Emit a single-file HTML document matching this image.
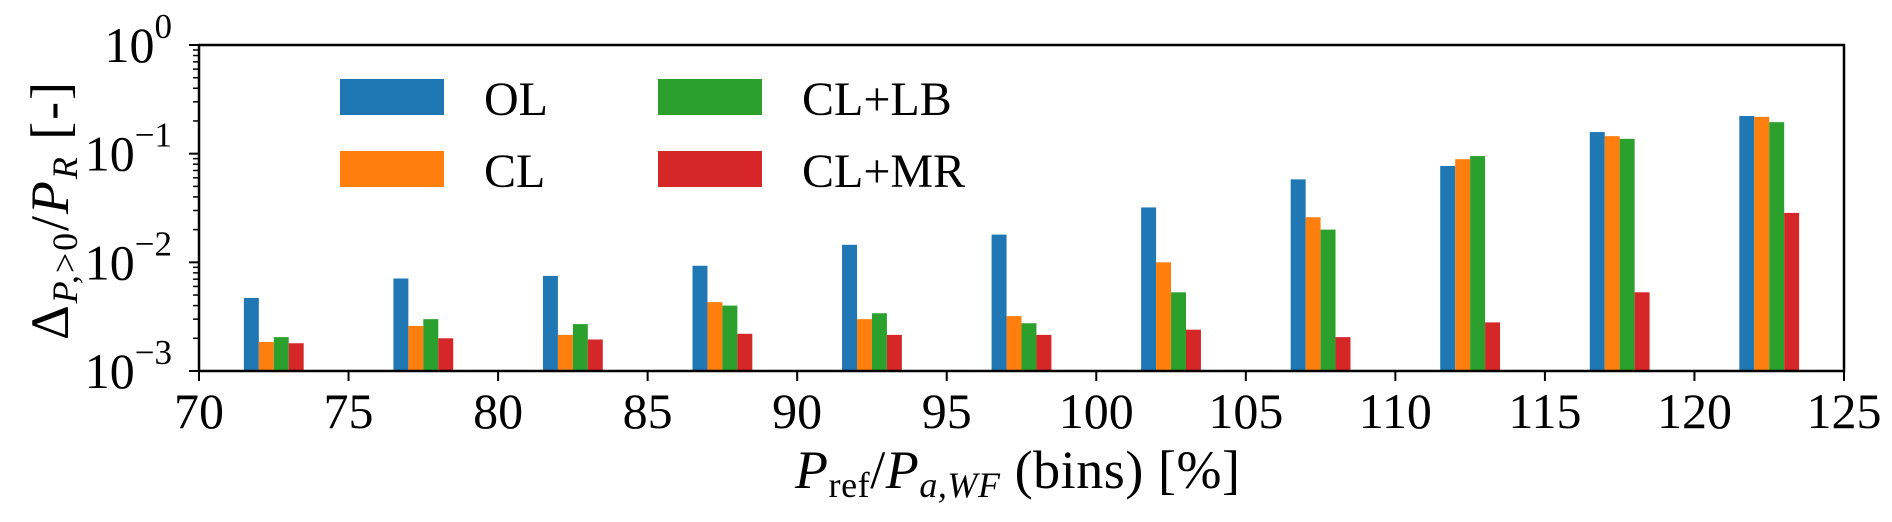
<!DOCTYPE html>
<html><head><meta charset="utf-8"><style>
html,body{margin:0;padding:0;background:#fff;}
svg{display:block;font-family:"Liberation Serif","DejaVu Serif",serif;}
</style></head><body>
<svg id="chart" width="1892" height="522" viewBox="0 0 1892 522" xmlns="http://www.w3.org/2000/svg">
<g id="bars"></g>
<g id="axes"></g>
<g id="legend"></g>
<text x="795" y="488" font-size="54" textLength="445" lengthAdjust="spacing"><tspan font-style="italic">P</tspan><tspan font-size="36" dy="9">ref</tspan><tspan dy="-9">/</tspan><tspan font-style="italic">P</tspan><tspan font-size="36" dy="9" font-style="italic">a,WF</tspan><tspan dy="-9"> (bins) [%]</tspan></text>
<text transform="translate(68,340) rotate(-90)" font-size="54" textLength="258" lengthAdjust="spacing">Δ<tspan font-size="36" dy="9" font-style="italic">P,</tspan><tspan font-size="36">&gt;0</tspan><tspan dy="-9">/</tspan><tspan font-style="italic">P</tspan><tspan font-size="36" dy="9" font-style="italic">R</tspan><tspan dy="-9"> [-]</tspan></text>
</svg>
<script>
const groups = [72.5,77.5,82.5,87.5,92.5,97.5,102.5,107.5,112.5,117.5,122.5];
const seriesNames = ["OL","CL","CL+LB","CL+MR"];
const seriesColors = ["#1f77b4","#ff7f0e","#2ca02c","#d62728"];
const valsOL = [4.7e-3,7.1e-3,7.5e-3,9.3e-3,1.45e-2,1.8e-2,3.2e-2,5.8e-2,7.7e-2,0.158,0.222];
const valsCL = [1.85e-3,2.6e-3,2.15e-3,4.3e-3,3.0e-3,3.2e-3,1.0e-2,2.6e-2,8.9e-2,0.145,0.218];
const valsLB = [2.05e-3,3.0e-3,2.7e-3,4.0e-3,3.4e-3,2.75e-3,5.3e-3,2.0e-2,9.5e-2,0.137,0.195];
const valsMR = [1.8e-3,2.0e-3,1.95e-3,2.2e-3,2.15e-3,2.15e-3,2.4e-3,2.05e-3,2.8e-3,5.3e-3,2.85e-2];
const xTicks = [70,75,80,85,90,95,100,105,110,115,120,125];
const yTickExps = [0,-1,-2,-3];
const barWidth = 0.5;

const NS="http://www.w3.org/2000/svg";
const X0=199,X1=1844,Y0=45,Y1=371;
const xMin=70,xMax=125,lMin=-3,lMax=0;
function xs(v){return X0+(v-xMin)/(xMax-xMin)*(X1-X0);}
function ys(v){return Y1-(Math.log10(v)-lMin)/(lMax-lMin)*(Y1-Y0);}
function mk(tag,attrs,parent){const e=document.createElementNS(NS,tag);for(const k in attrs)e.setAttribute(k,attrs[k]);parent.appendChild(e);return e;}

const bars=document.getElementById('bars');
const all=[valsOL,valsCL,valsLB,valsMR];
all.forEach((vals,s)=>{
  vals.forEach((v,i)=>{
    const xl=groups[i]+(s-2)*barWidth;
    const r=mk('rect',{x:xs(xl),y:ys(v),width:xs(xl+barWidth)-xs(xl),height:Y1-ys(v),fill:seriesColors[s]},bars);
    
    
  });
});

const ax=document.getElementById('axes');
const frame=mk('rect',{x:X0,y:Y0,width:X1-X0,height:Y1-Y0,fill:'none',stroke:'#000','stroke-width':2.5},ax);


xTicks.forEach(t=>{
  const x=xs(t);
  mk('line',{x1:x,y1:Y1,x2:x,y2:Y1+10,stroke:'#000','stroke-width':2},ax);
  const tx=mk('text',{x:x,y:428,'font-size':50,'text-anchor':'middle'},ax);
  tx.textContent=t;
  
  
});
yTickExps.forEach(e=>{
  const y=ys(Math.pow(10,e));
  mk('line',{x1:X0-10,y1:y,x2:X0,y2:y,stroke:'#000','stroke-width':2},ax);
  const tx=mk('text',{x:172,y:y+17,'font-size':50,'text-anchor':'end'},ax);
  tx.innerHTML='10<tspan font-size="35" dy="-24">'+(e===0?'0':'\u2212'+(-e))+'</tspan>';
  
  
  if(e>lMin){for(let m=2;m<10;m++){const yy=ys(m*Math.pow(10,e-1));mk('line',{x1:X0-6,y1:yy,x2:X0,y2:yy,stroke:'#000','stroke-width':1.5},ax);}}
});

const lg=document.getElementById('legend');
const legPos=[[340,79],[340,151],[658,79],[658,151]];
seriesNames.forEach((n,s)=>{
  const [px,py]=legPos[s];
  const g=mk('g',{},lg);
  
  
  mk('rect',{x:px,y:py,width:104,height:36,fill:seriesColors[s]},g);
  const t=mk('text',{x:px+144,y:py+36,'font-size':48},g);
  t.textContent=n;
});
</script>
</body></html>
